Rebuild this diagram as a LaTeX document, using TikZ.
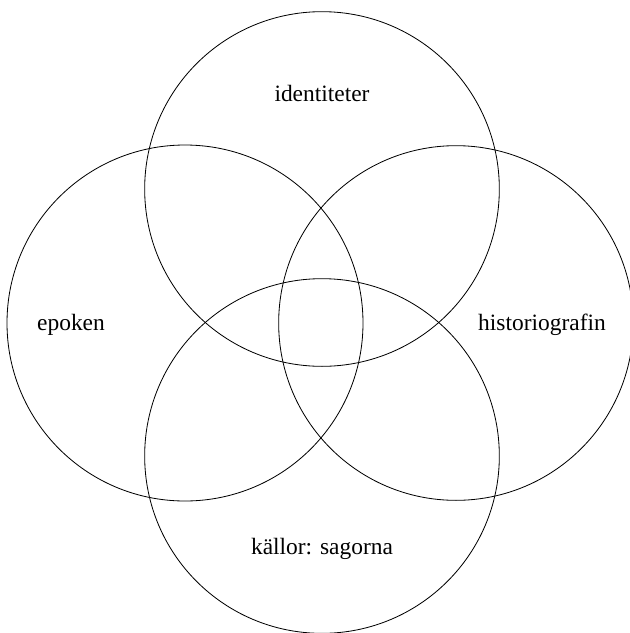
\documentclass[tikz,border=0pt]{standalone}
\usepackage{fontspec}
\setmainfont{Liberation Serif}
\usepackage{tikz}
\usetikzlibrary{positioning}

\begin{document}
\begin{tikzpicture}[
    x=0.3mm, y=-0.3mm,
    ring/.style={draw, line width=0.7pt},
    lbl/.style={font=\fontsize{20}{23}\selectfont, inner sep=0pt},
]
\useasboundingbox (0,0) rectangle (630,633);

\draw[ring] (322,189) circle[radius=53.2mm];
\draw[ring] (185,323) circle[radius=53.4mm];
\draw[ring] (456,323) circle[radius=53.2mm];
\draw[ring] (322,456) circle[radius=53.2mm];

\node[lbl] (ident) at (322,93) {identiteter};
\node[lbl] (epok) at (71,325) {epoken};
\node[lbl] (hist) at (542,325) {historiografin};
\node[lbl] (kall) at (322,549) {källor: sagorna};
\end{tikzpicture}
\end{document}
